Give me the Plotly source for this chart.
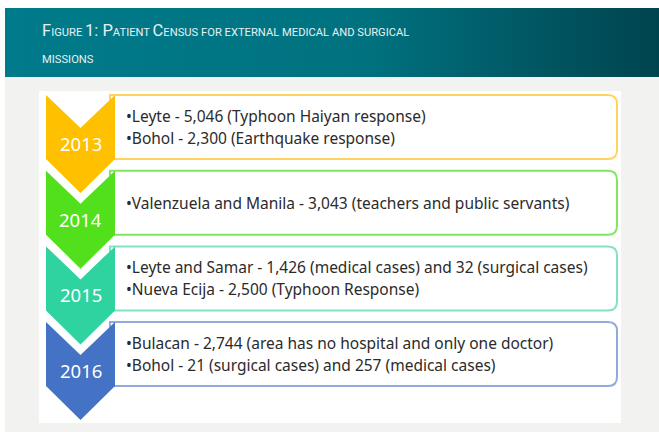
import plotly.graph_objects as go

# ---- data ----
years = ["2013", "2014", "2015", "2016"]
fill_colors = ["#FFC000", "#52E01C", "#2ED39F", "#4472C4"]
border_colors = ["#FFD45E", "#80E860", "#80E2C4", "#8FAADC"]
entries = [
    ["•Leyte - 5,046 (Typhoon Haiyan response)",
     "•Bohol - 2,300 (Earthquake response)"],
    ["•Valenzuela and Manila - 3,043 (teachers and public servants)"],
    ["•Leyte and Samar - 1,426 (medical cases) and 32 (surgical cases)",
     "•Nueva Ecija - 2,500 (Typhoon Response)"],
    ["•Bulacan - 2,744 (area has no hospital and only one doctor)",
     "•Bohol - 21 (surgical cases) and 257 (medical cases)"],
]
title_line1 = [("F", 1), ("IGURE ", 0), ("1: P", 1), ("ATIENT ", 0), ("C", 1),
               ("ENSUS FOR EXTERNAL MEDICAL AND SURGICAL", 0)]
title_line2 = [("MISSIONS", 0)]

# ---- layout constants ----
W, H = 659, 432
row_top0, row_step = 95, 75.7
box_h, tip = 64, 98
cx_l, cx_r = 46, 115
box_r = 617
rad = 9

fig = go.Figure()

# header band with horizontal gradient
fig.add_trace(go.Scatter(
    x=[5, W, W, 5, 5], y=[8, 8, 77, 77, 8], mode="lines", fill="toself",
    line=dict(width=0), hoverinfo="skip",
    fillgradient=dict(type="horizontal",
                      colorscale=[[0, "#007B8B"], [0.55, "#00727F"], [1, "#00444F"]]),
))

shapes = []
# gray background and white panel
shapes.append(dict(type="rect", x0=5, x1=W, y0=77, y1=H, fillcolor="#F2F2F0",
                   line=dict(width=0), layer="below"))
shapes.append(dict(type="rect", x0=39, x1=621, y0=91, y1=423, fillcolor="#FFFFFF",
                   line=dict(width=0), layer="below"))

annotations = []


def title_html(parts):
    out = ""
    for txt, big in parts:
        size = 16.5 if big else 11.2
        out += f'<span style="font-size:{size}px">{txt}</span>'
    return out


tfont = dict(family="Roboto, sans-serif", color="#E4F1F2", size=11.2)
annotations.append(dict(x=40, y=30.5, xref="x", yref="y", text=title_html(title_line1),
                        showarrow=False, xanchor="left", yanchor="middle", font=tfont))
annotations.append(dict(x=40, y=59.5, xref="x", yref="y", text=title_html(title_line2),
                        showarrow=False, xanchor="left", yanchor="middle", font=tfont))

cx_m = (cx_l + cx_r) / 2
for i, yr in enumerate(years):
    T = row_top0 + i * row_step
    B = T + box_h
    # rounded box
    path = (f"M {cx_r - 5},{T} L {box_r - rad},{T} Q {box_r},{T} {box_r},{T + rad} "
            f"L {box_r},{B - rad} Q {box_r},{B} {box_r - rad},{B} L {cx_r - 5},{B} Z")
    shapes.append(dict(type="path", path=path, fillcolor="#FFFFFF",
                       line=dict(color=border_colors[i], width=2)))
    # chevron
    cpath = (f"M {cx_l},{T} L {cx_m},{T + 33} L {cx_r},{T} L {cx_r},{B} "
             f"L {cx_m},{T + tip} L {cx_l},{B} Z")
    shapes.append(dict(type="path", path=cpath, fillcolor=fill_colors[i],
                       line=dict(width=0)))
    annotations.append(dict(x=cx_m, y=T + 48.5, xref="x", yref="y", text=yr,
                            showarrow=False, xanchor="center", yanchor="middle",
                            font=dict(family="Noto Sans", size=18.5, color="#FFFFFF")))
    lines = entries[i]
    offs = [32] if len(lines) == 1 else [21, 43]
    for ln, o in zip(lines, offs):
        annotations.append(dict(x=124, y=T + o, xref="x", yref="y", text=ln,
                                showarrow=False, xanchor="left", yanchor="middle",
                                font=dict(family="Noto Sans", size=15.5, color="#2B2B2B")))

fig.update_layout(
    width=W, height=H, margin=dict(l=0, r=0, t=0, b=0),
    paper_bgcolor="#FFFFFF", plot_bgcolor="#FFFFFF", showlegend=False,
    xaxis=dict(range=[0, W], visible=False, fixedrange=True),
    yaxis=dict(range=[H, 0], visible=False, fixedrange=True),
    shapes=shapes, annotations=annotations,
)

fig.write_html("out.html", config={"displayModeBar": False},
               post_script="document.body.style.margin='0';")
